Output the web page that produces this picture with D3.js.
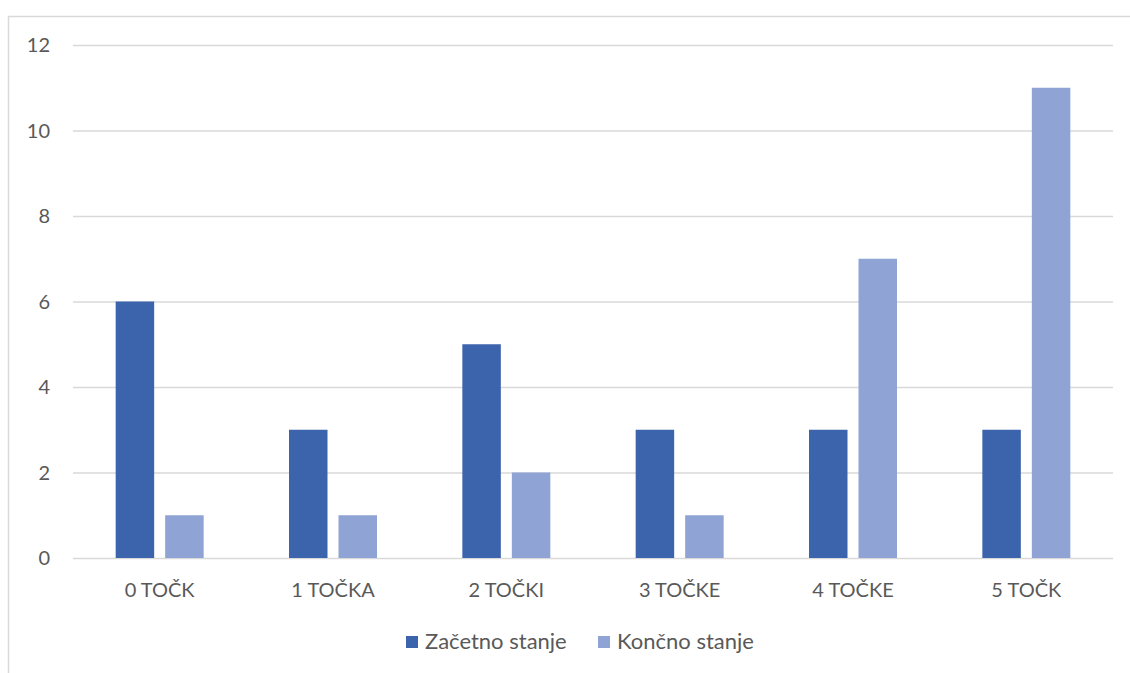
<!DOCTYPE html>
<html>
<head>
<meta charset="utf-8">
<script src="https://cdn.jsdelivr.net/npm/d3@7"></script>
<style>
  body { margin: 0; background: #fff; }
  svg { display: block; font-family: Lato, "Open Sans", sans-serif; }
</style>
</head>
<body>
<svg id="chart" width="1130" height="673"></svg>
<script>
// Points per category, start vs. end state
const categories = ["0 TOČK", "1 TOČKA", "2 TOČKI", "3 TOČKE", "4 TOČKE", "5 TOČK"];
const seriesNames = ["Začetno stanje", "Končno stanje"];
const startValues = [6, 3, 5, 3, 3, 3];
const endValues = [1, 1, 2, 1, 7, 11];
const yTicks = [0, 2, 4, 6, 8, 10, 12];
const colors = ["#3c64ad", "#8fa4d5"];

const svg = d3.select("#chart");
const W = 1130, H = 673;

// Outer chart frame
svg.append("rect")
  .attr("x", 8.5).attr("y", 16.5)
  .attr("width", W + 20).attr("height", H + 20)
  .attr("fill", "#fff").attr("stroke", "#d9d9d9").attr("stroke-width", 1.5);

const plot = { left: 73, right: 1113, top: 45, bottom: 558 };

const x0 = d3.scaleBand().domain(categories).range([plot.left, plot.right]).padding(0);
const y = d3.scaleLinear().domain([0, 12]).range([plot.bottom, plot.top]);

// Gridlines
svg.append("g").selectAll("line").data(yTicks).join("line")
  .attr("x1", plot.left).attr("x2", plot.right)
  .attr("y1", d => y(d) + 0.5).attr("y2", d => y(d) + 0.5)
  .attr("stroke", "#d9d9d9").attr("stroke-width", 1.3);

// Y axis labels
svg.append("g").selectAll("text").data(yTicks).join("text")
  .attr("x", 50).attr("y", d => y(d))
  .attr("dy", "0.36em")
  .attr("text-anchor", "end")
  .attr("font-size", 20).attr("fill", "#595959")
  .text(d => d);

// Bars: two per category
const barW = 38.5, innerGap = 11;
const x1 = d3.scaleOrdinal().domain([0, 1]).range([-innerGap / 2 - barW, innerGap / 2]);
const rows = categories.map((c, i) => ({ c, vals: [startValues[i], endValues[i]] }));

const groups = svg.append("g").selectAll("g").data(rows).join("g")
  .attr("transform", d => `translate(${x0(d.c) + x0.bandwidth() / 2},0)`);

groups.selectAll("rect").data(d => d.vals.map((v, k) => ({ v, k }))).join("rect")
  .attr("x", d => x1(d.k))
  .attr("width", barW)
  .attr("y", d => y(d.v))
  .attr("height", d => y(0) - y(d.v))
  .attr("fill", d => colors[d.k]);

// Category labels
svg.append("g").selectAll("text").data(categories).join("text")
  .attr("x", d => x0(d) + x0.bandwidth() / 2)
  .attr("y", 597)
  .attr("text-anchor", "middle")
  .attr("font-size", 20).attr("fill", "#595959")
  .text(d => d);

// Legend
const legend = svg.append("g");
const legendX = [406, 598];
seriesNames.forEach((name, i) => {
  legend.append("rect")
    .attr("x", legendX[i]).attr("y", 636)
    .attr("width", 12).attr("height", 12)
    .attr("fill", colors[i]);
  legend.append("text")
    .attr("x", legendX[i] + 19).attr("y", 649)
    .attr("font-size", 22).attr("fill", "#595959")
    .text(name);
});
</script>
</body>
</html>
